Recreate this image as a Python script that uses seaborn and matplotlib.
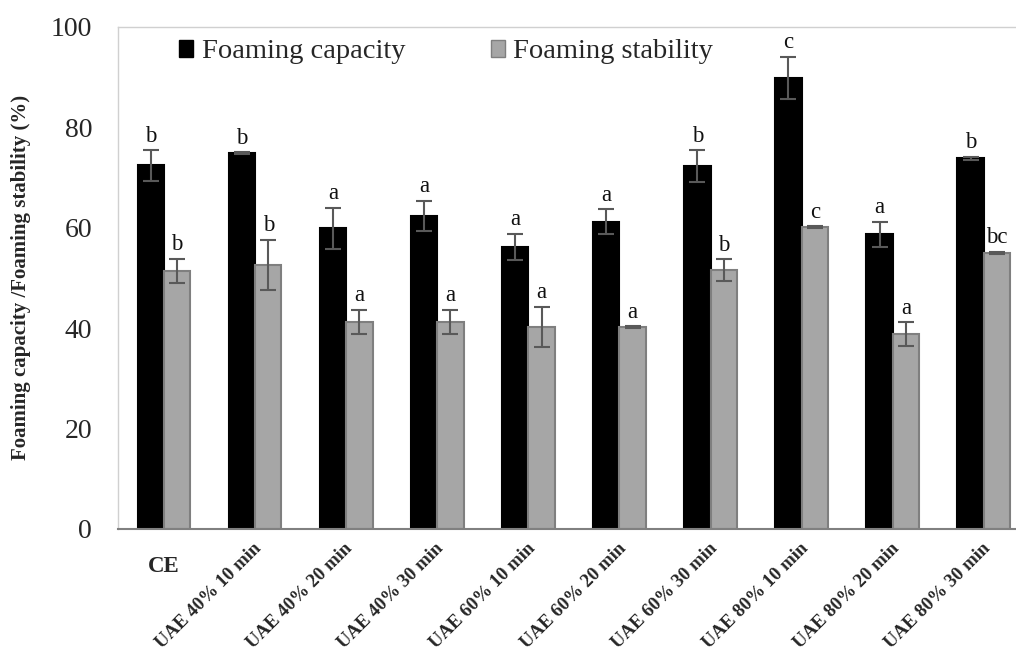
import matplotlib
matplotlib.use("Agg")
import matplotlib.pyplot as plt
import matplotlib.transforms as mtransforms
from matplotlib.patches import Patch
import seaborn as sns
import pandas as pd
import numpy as np

categories = ["CE", "UAE 40% 10 min", "UAE 40% 20 min", "UAE 40% 30 min",
              "UAE 60% 10 min", "UAE 60% 20 min", "UAE 60% 30 min",
              "UAE 80% 10 min", "UAE 80% 20 min", "UAE 80% 30 min"]
capacity = [72.4, 74.8, 59.9, 62.4, 56.2, 61.2, 72.3, 89.9, 58.7, 73.8]
capacity_err = [3.0, 0.2, 4.1, 3.0, 2.6, 2.5, 3.1, 4.2, 2.5, 0.3]
stability = [51.4, 52.6, 41.3, 41.3, 40.2, 40.2, 51.5, 60.1, 38.8, 55.0]
stability_err = [2.4, 5.0, 2.4, 2.4, 4.0, 0.2, 2.2, 0.2, 2.4, 0.2]
capacity_letters = ["b", "b", "a", "a", "a", "a", "b", "c", "a", "b"]
stability_letters = ["b", "b", "a", "a", "a", "a", "b", "c", "a", "bc"]
series = ["Foaming capacity", "Foaming stability"]

df = pd.DataFrame({
    "Sample": categories * 2,
    "Series": [series[0]] * len(categories) + [series[1]] * len(categories),
    "Value": capacity + stability,
})

sns.set_style("white")
plt.rcParams["font.family"] = ["Liberation Serif", "DejaVu Serif"]

fig = plt.figure(figsize=(10.16, 6.57), dpi=100)
# plot area runs slightly past the right edge of the picture (cropped)
ax = fig.add_axes([118.4 / 1016, 0.195, 911 / 1016, 0.764])

colors = {"Foaming capacity": "#000000", "Foaming stability": "#a6a6a6"}
sns.barplot(data=df, x="Sample", y="Value", hue="Series", palette=colors,
            width=0.58, gap=0, errorbar=None, ax=ax, legend=False,
            order=categories, hue_order=series)

bar_containers = list(ax.containers)[:2]
edge = {0: "#000000", 1: "#7f7f7f"}
errs = [capacity_err, stability_err]
vals = [capacity, stability]
letters = [capacity_letters, stability_letters]
for i, cont in enumerate(bar_containers):
    for j, bar in enumerate(cont.patches):
        bar.set_edgecolor(edge[i])
        bar.set_linewidth(1.5)
        xc = bar.get_x() + bar.get_width() / 2
        v = vals[i][j]
        e = errs[i][j]
        ax.errorbar(xc, v, yerr=e, fmt="none", ecolor="#595959",
                    elinewidth=1.5, capsize=5.8, capthick=1.5, zorder=3)
        ax.text(xc, v + e + 1.7, letters[i][j], ha="center", va="baseline",
                fontsize=16.5, color="#111111")

ax.set_ylim(0, 100)
ax.set_yticks([0, 20, 40, 60, 80, 100])
ax.tick_params(axis="y", labelsize=20, length=0, pad=19)
ax.tick_params(axis="x", length=0)
ax.set_xlim(-0.5, len(categories) - 0.5)
ax.set_xlabel("")
ax.set_ylabel("Foaming capacity /Foaming stability (%)", fontsize=15,
              fontweight="bold", labelpad=14)

# x tick labels
ax.set_xticks(range(len(categories)))
ax.set_xticklabels([])
offset = mtransforms.ScaledTranslation(10 / 100, -11 / 100, fig.dpi_scale_trans)
xt = mtransforms.blended_transform_factory(ax.transData, ax.transAxes)
for j, lab in enumerate(categories):
    if j == 0:
        ax.text(j, 0, lab, ha="center", va="center", fontsize=16.5,
                fontweight="bold",
                transform=xt + mtransforms.ScaledTranslation(0, -38 / 100, fig.dpi_scale_trans))
    else:
        ax.text(j, 0, lab, ha="right", va="top", rotation=45,
                fontsize=13.5, fontweight="bold",
                transform=xt + offset)

for s in ["top", "right", "left"]:
    ax.spines[s].set_color("#d0d0d0")
    ax.spines[s].set_linewidth(1.0)
ax.spines["bottom"].set_color("#808080")
ax.spines["bottom"].set_linewidth(1.5)

handles = [Patch(facecolor="#000000", edgecolor="#000000"),
           Patch(facecolor="#a6a6a6", edgecolor="#7f7f7f")]
fig.legend(handles, series, loc="center left",
           bbox_to_anchor=(179 / 1016, 1 - 52 / 657), borderaxespad=0,
           borderpad=0, ncol=2, frameon=False, fontsize=20.5,
           handlelength=0.5, handleheight=0.5, handletextpad=0.3,
           columnspacing=3.0)

fig.savefig("out.png", dpi=100)
